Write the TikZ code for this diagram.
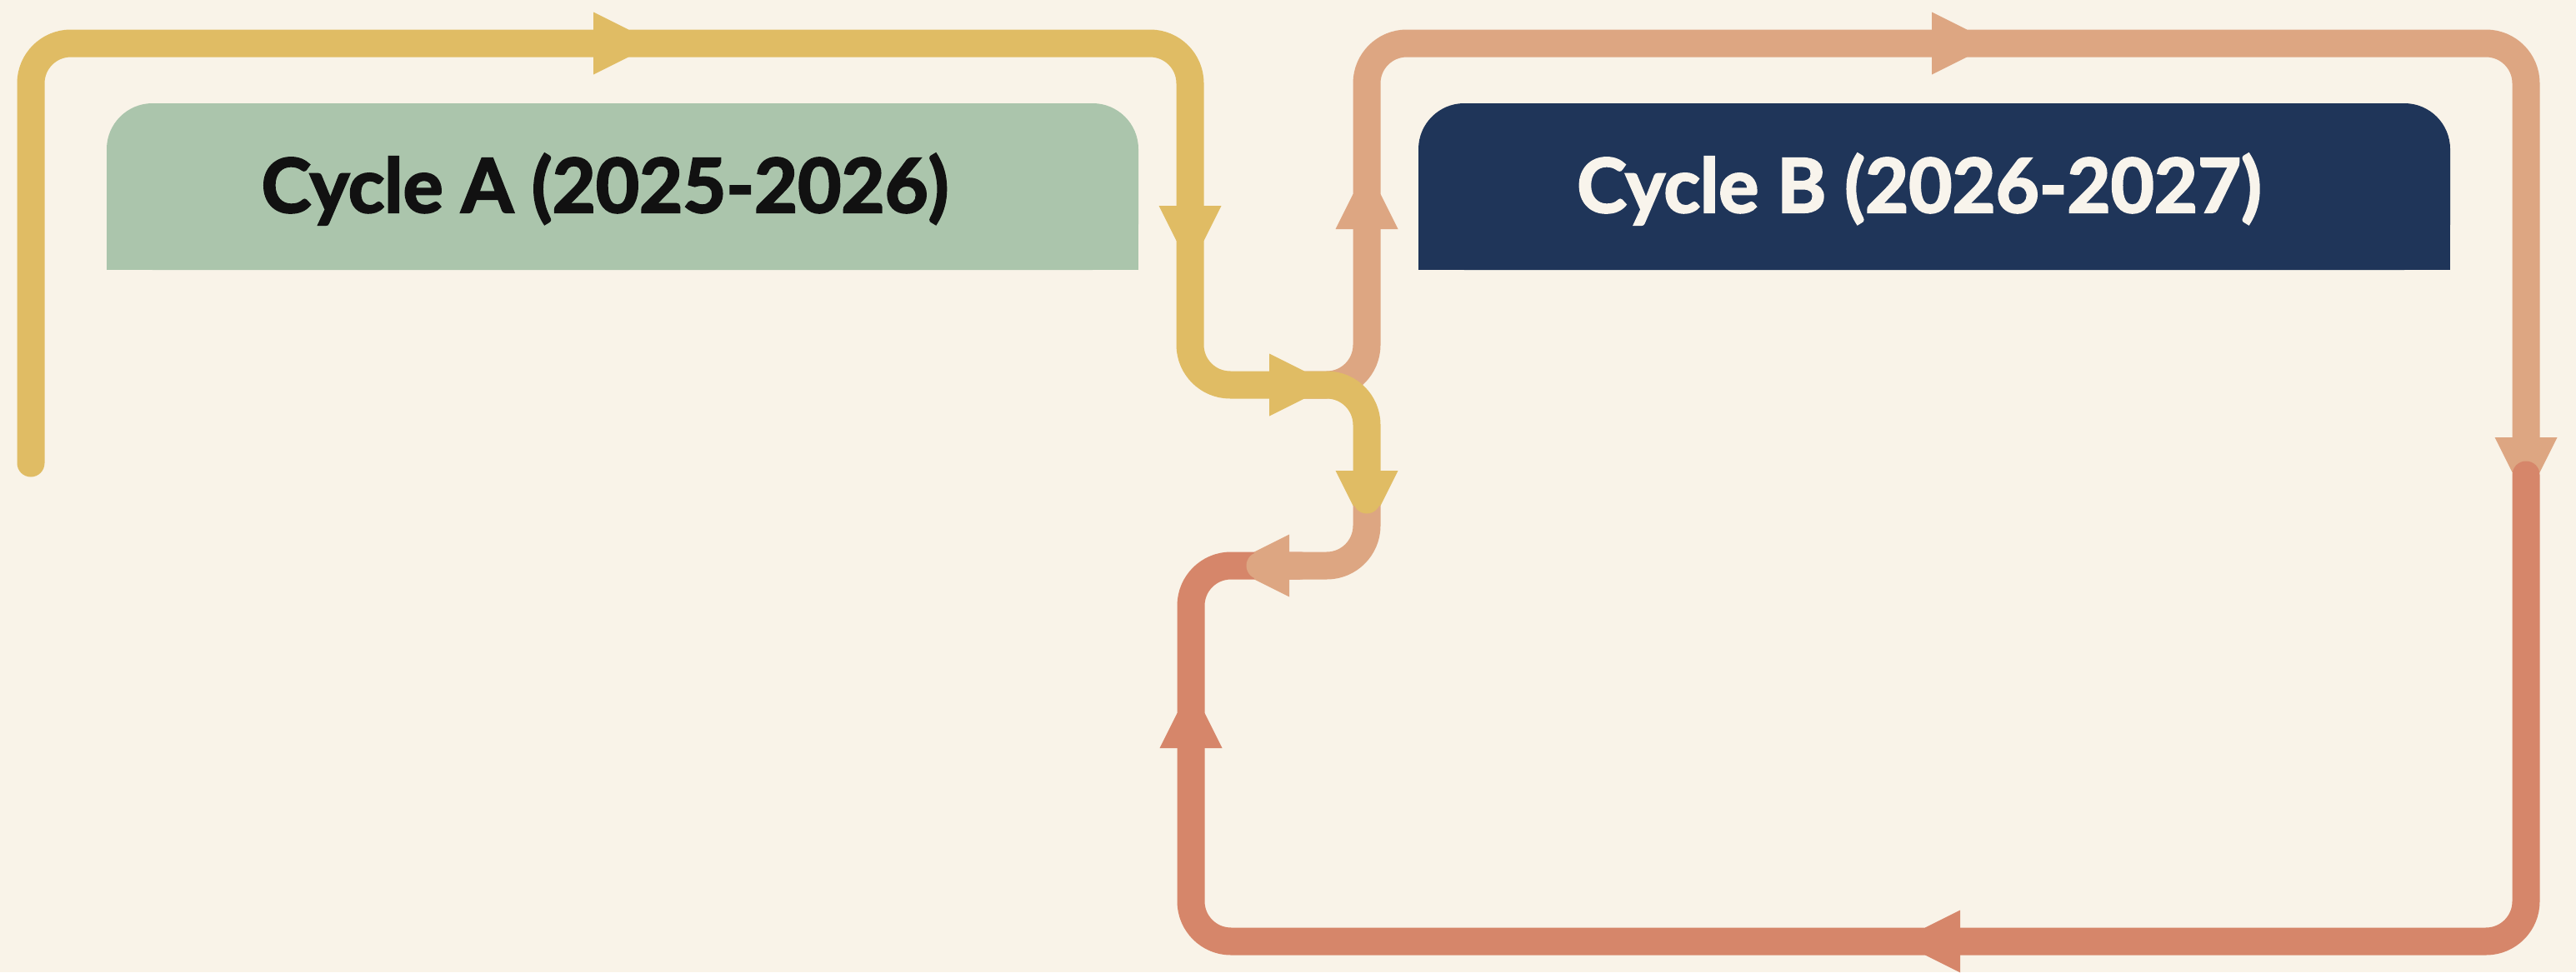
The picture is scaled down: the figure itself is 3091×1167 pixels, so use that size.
\documentclass[tikz,border=0pt]{standalone}
\usepackage{fontspec}
\setmainfont{Lato}
\newfontfamily\headfont{Lato}[FakeBold=2.5]
\definecolor{bgc}{HTML}{F9F3E8}
\definecolor{yel}{HTML}{E0BC64}
\definecolor{sal}{HTML}{DDA682}
\definecolor{cor}{HTML}{D6866A}
\definecolor{grn}{HTML}{ABC5AC}
\definecolor{nvy}{HTML}{1F3559}
\definecolor{txtdark}{HTML}{111111}
\definecolor{txtlight}{HTML}{F8F4EC}
\newcommand\flowtip[4]{% color, x, y, canvas angle
  \fill[#1, shift={(#2,#3)}, rotate=#4] (0,-37.5) -- (42,-16.5) -- (42,16.5) -- (0,37.5) -- cycle;}
\begin{document}
\begin{tikzpicture}[x=1pt,y=-1pt,
  flow/.style={line width=33pt, line cap=round, line join=round, rounded corners=48pt},
  headbox/.style={rounded corners=55pt, minimum width=1238pt, minimum height=200pt, inner sep=0pt},
  headtext/.style={font=\headfont\bfseries\fontsize{90}{100}\selectfont, anchor=base, inner sep=0pt}]
\useasboundingbox (0,0) rectangle (3091,1167);
\fill[bgc] (0,0) rectangle (3091,1167);

% header boxes
\node[headbox, fill=grn] (boxA) at (747,224) {};
\fill[grn] (boxA.west) rectangle (boxA.south east);
\node[headbox, fill=nvy] (boxB) at (2321,224) {};
\fill[nvy] (boxB.west) rectangle (boxB.south east);
\node[headtext, text=txtdark] (labA) at (726,255) {Cycle A (2025-2026)};
\node[headtext, text=txtlight] (labB) at (2303,255) {Cycle B (2026-2027)};

% corner coordinates
\coordinate (a0) at (37,556);
\coordinate (a1) at (37,52);
\coordinate (a2) at (1428,52);
\coordinate (a3) at (1428,462);
\coordinate (a4) at (1640,462);
\coordinate (a5) at (1640,600);
\coordinate (b0) at (1560,462);
\coordinate (b1) at (1640,52);
\coordinate (b2) at (3031,52);
\coordinate (b3) at (3031,563);
\coordinate (c0) at (3031,570);
\coordinate (c1) at (3031,1130);
\coordinate (c2) at (1429,1130);
\coordinate (c3) at (1429,679);
\coordinate (c4) at (1560,679);
\coordinate (d1) at (1640,679);
\coordinate (d2) at (1512,679);

% salmon top loop
\draw[flow, sal] (b0) -- (a4) -- (b1) -- (b2) -- (b3);
\flowtip{sal}{1640}{275}{90}
\flowtip{sal}{2318}{52}{0}
\flowtip{sal}{3031}{525}{270}

% coral lower loop
\draw[flow, cor] (c0) -- (c1) -- (c2) -- (c3) -- (c4);
\flowtip{cor}{2352}{1130}{180}
\flowtip{cor}{1429}{898}{90}

% salmon junction
\draw[flow, sal] (a5) -- (d1) -- (d2);
\flowtip{sal}{1547}{679}{180}

% yellow path
\draw[flow, yel] (a0) -- (a1) -- (a2) -- (a3) -- (a4) -- (a5);
\flowtip{yel}{712}{52}{0}
\flowtip{yel}{1428}{247}{270}
\flowtip{yel}{1523}{462}{0}
\flowtip{yel}{1640}{565}{270}
\end{tikzpicture}
\end{document}
